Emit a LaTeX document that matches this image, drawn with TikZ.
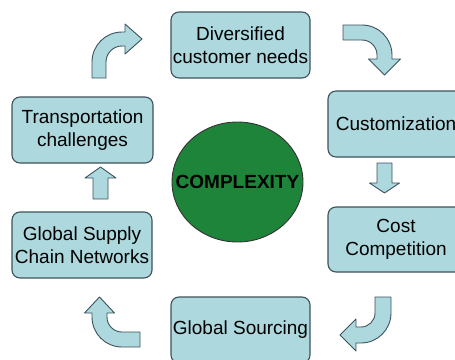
\documentclass[tikz,border=0pt]{standalone}
\usepackage{fontspec}
\setmainfont{Liberation Sans}
\usetikzlibrary{shapes.geometric}
\definecolor{boxfill}{RGB}{172,216,222}
\definecolor{boxline}{RGB}{62,82,92}
\definecolor{cgreen}{RGB}{30,132,58}
\begin{document}
\begin{tikzpicture}[x=1pt,y=-1pt,
  stepbox/.style={draw=boxline, line width=1.1pt, fill=boxfill, rounded corners=8pt,
    align=center, inner sep=0pt, minimum height=66pt, font=\fontsize{19}{23}\selectfont},
  barrow/.style={draw=boxline, line width=0.9pt, fill=boxfill, line join=round}]
\useasboundingbox (0,0) rectangle (455,359);
% boxes
\node[stepbox, minimum width=139pt] (div) at (240.5,45) {Diversified\\customer needs};
\node[stepbox, minimum width=136pt] (cus) at (396,124) {Customization};
\node[stepbox, minimum width=136pt, minimum height=65pt] (cost) at (396,239.5) {Cost\\Competition};
\node[stepbox, minimum width=139pt] (src) at (240.5,330) {Global Sourcing};
\node[stepbox, minimum width=140pt] (gscn) at (82,245) {Global Supply\\Chain Networks};
\node[stepbox, minimum width=141pt] (trans) at (82.5,130) {Transportation\\challenges};
% centre
\node[draw=black!80, line width=0.9pt, fill=cgreen, ellipse, inner sep=0pt,
  minimum width=131pt, minimum height=120pt] (cx) at (237.5,182) {};
\node[inner sep=0pt, font=\fontsize{19}{20}\selectfont\bfseries] (cxt) at (cx.center) {COMPLEXITY};
% top-left bent arrow
\draw[barrow] (92,78) -- (92,62) .. controls (92,45.4) and (105.4,32) .. (122,32)
  -- (125,32) -- (125,24) -- (142,39) -- (125,54) -- (125,46) -- (122,46)
  .. controls (113.2,46) and (106,53.2) .. (106,62) -- (106,78) -- cycle;
% top-right bent arrow
\draw[barrow] (343,25) -- (362,25) .. controls (378.6,25) and (392,38.4) .. (392,55)
  -- (392,59) -- (400.5,59) -- (384.5,75) -- (368.5,59) -- (377,59) -- (377,55)
  .. controls (377,46.7) and (370.3,40) .. (362,40) -- (343,40) -- cycle;
% down arrow
\draw[barrow] (377,163) -- (392,163) -- (392,183) -- (399.5,183) -- (384.5,193)
  -- (369.5,183) -- (377,183) -- cycle;
% bottom-right bent arrow
\draw[barrow] (391,297) -- (391,313) .. controls (391,329.6) and (377.6,343) .. (361,343)
  -- (356,343) -- (356,351) -- (340,335) -- (356,319) -- (356,327) -- (361,327)
  .. controls (368.7,327) and (375,320.7) .. (375,313) -- (375,297) -- cycle;
% bottom-left bent arrow
\draw[barrow] (140,347) -- (122,347) .. controls (105.4,347) and (92,333.6) .. (92,317)
  -- (92,313) -- (84.5,313) -- (99.5,297) -- (114.5,313) -- (107,313) -- (107,317)
  .. controls (107,325.3) and (113.7,332) .. (122,332) -- (140,332) -- cycle;
% up arrow
\draw[barrow] (93,199) -- (93,178) -- (85,178) -- (100.5,167) -- (116,178)
  -- (108,178) -- (108,199) -- cycle;
\end{tikzpicture}
\end{document}
